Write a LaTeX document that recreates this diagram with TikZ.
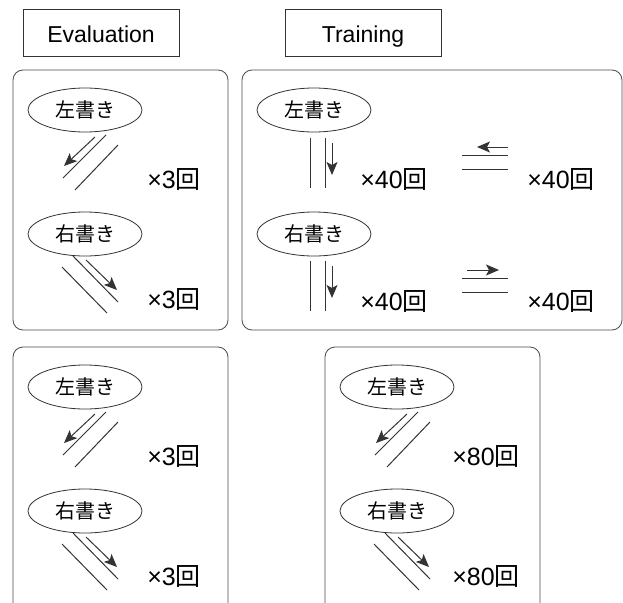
\documentclass[tikz,border=0pt]{standalone}
\usepackage{fontspec}
\setmainfont{Liberation Sans}
\newfontfamily\jp{Noto Sans CJK JP}
\usetikzlibrary{shapes.geometric,arrows.meta}

\tikzset{
  panel/.style={draw=black!70, line width=0.8pt, rounded corners=10pt},
  titlebox/.style={draw=black!80, line width=0.8pt, minimum width=156pt,
    minimum height=47pt, inner sep=0pt, text height=20pt, text depth=0pt,
    font=\fontsize{23}{27}\selectfont},
  oval/.style={ellipse, draw=black!80, line width=0.8pt, minimum width=114pt,
    minimum height=44pt, inner sep=0pt, font=\jp\fontsize{20}{24}\selectfont},
  count/.style={font=\fontsize{25}{29}\selectfont, inner sep=0pt},
  rail/.style={draw=black!80, line width=1pt},
  mover/.style={rail, -{Stealth[length=13pt,width=11pt,inset=3pt]}},
  % one column of diagonal strokes: left-writing above, right-writing below
  diagcol/.pic={
    \node[oval] (-l) at (72,40) {左書き};
    \draw[mover] (82,67) -- (51,96);
    \draw[rail] (93,65) -- (50,108);
    \draw[rail] (105,75) -- (62,120);
    \node[count] (-lc) at (161,109) {×#1{\jp 回}};
    \node[oval] (-r) at (72,164) {右書き};
    \draw[mover] (73,190) -- (104,220);
    \draw[rail] (60,186) -- (105,232);
    \draw[rail] (49,197) -- (94,243);
    \node[count] (-rc) at (161,229) {×#1{\jp 回}};
  },
  % vertical and horizontal strokes, forty of each
  straightcol/.pic={
    \node[oval] (-l) at (72,40) {左書き};
    \draw[rail] (68,68) -- (68,118);
    \draw[rail] (83,68) -- (83,118);
    \draw[mover] (90,73) -- (90,105);
    \node[count] (-lc) at (152,109) {×40{\jp 回}};
    \draw[mover] (266,77) -- (235,77);
    \draw[rail] (220,85) -- (266,85);
    \draw[rail] (220,99) -- (266,99);
    \node[count] (-lh) at (319,109) {×40{\jp 回}};
    \node[oval] (-r) at (72,164) {右書き};
    \draw[rail] (68,191) -- (68,241);
    \draw[rail] (83,191) -- (83,241);
    \draw[mover] (90,196) -- (90,228);
    \node[count] (-rc) at (152,231) {×40{\jp 回}};
    \draw[mover] (225,200) -- (257,200);
    \draw[rail] (220,208) -- (266,208);
    \draw[rail] (220,222) -- (266,222);
    \node[count] (-rh) at (319,231) {×40{\jp 回}};
  }
}

\begin{document}
\begin{tikzpicture}[x=1pt, y=-1pt]
  \useasboundingbox (0,0) rectangle (623,602);
  \clip (0,0) rectangle (623,602);
  \fill[white] (0,0) rectangle (623,602);

  % headings
  \node[titlebox] (evaltitle) at (101,32.5) {Evaluation};
  \node[titlebox] (traintitle) at (363,32.5) {Training};

  % frames
  \draw[panel] (13,70) rectangle (228,330);
  \draw[panel] (242,70) rectangle (622,330);
  \draw[panel] (13,347) rectangle (228,625);
  \draw[panel] (325,347) rectangle (540,625);

  % contents
  \pic (evtop) at (13,70) {diagcol=3};
  \pic (evbot) at (13,347) {diagcol=3};
  \pic (trtop) at (242,70) {straightcol};
  \pic (trbot) at (325,347) {diagcol=80};
\end{tikzpicture}
\end{document}
